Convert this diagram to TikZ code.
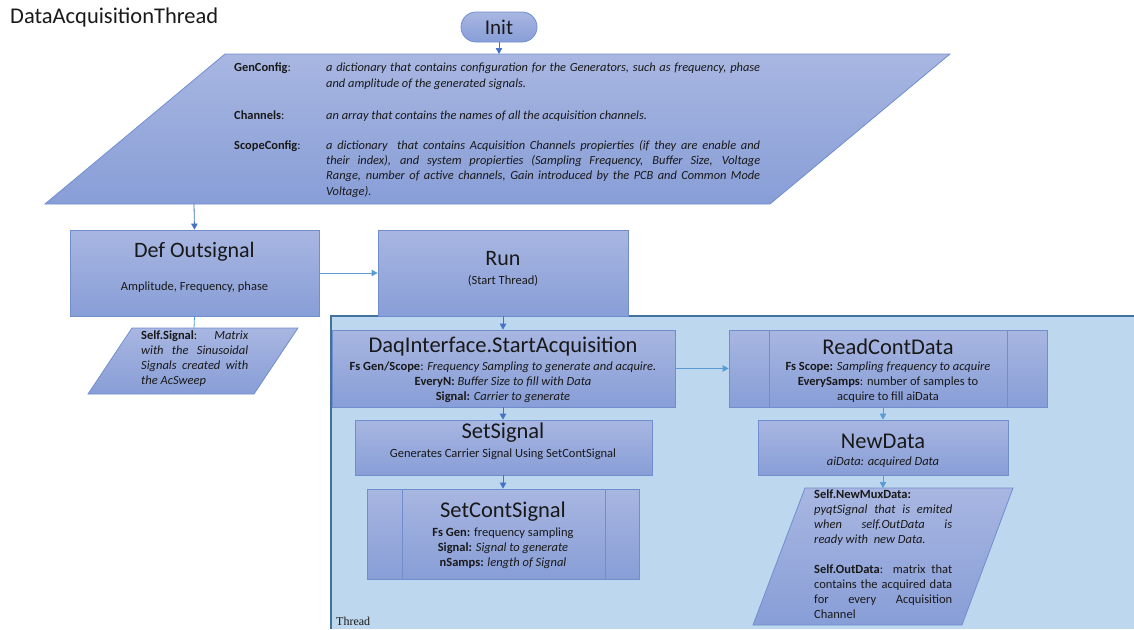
\documentclass[tikz,border=0pt]{standalone}
\usepackage{fontspec}
\setmainfont{Carlito}
\newfontfamily\threadfont{Liberation Serif}
\usetikzlibrary{arrows.meta}

\definecolor{boxtop}{RGB}{168,182,225}
\definecolor{boxbot}{RGB}{136,158,215}
\definecolor{boxline}{RGB}{112,142,206}
\definecolor{threadfill}{RGB}{189,215,238}
\definecolor{threadline}{RGB}{65,113,156}
\definecolor{arrowdark}{RGB}{68,114,196}
\definecolor{arrowlight}{RGB}{91,155,213}
\definecolor{ink}{RGB}{25,25,25}

\begin{document}
\begin{tikzpicture}[x=1pt,y=-1pt,
  every node/.style={text=ink},
  box/.style={draw=boxline, line width=0.8pt, top color=boxtop, bottom color=boxbot, inner sep=0pt},
  databox/.style={draw=boxline, line width=0.8pt, top color=boxtop, bottom color=boxbot},
  flow/.style={draw=arrowdark, line width=0.8pt, -{Triangle[length=6pt,width=6.5pt]}},
  flowlight/.style={draw=arrowlight, line width=0.8pt, -{Triangle[length=6pt,width=6.5pt]}},
  plain/.style={draw=arrowlight, line width=0.8pt},
  bigtitle/.style={font=\fontsize{22.5}{26}\selectfont, inner sep=0pt},
  body/.style={font=\fontsize{12.5}{15}\selectfont, inner sep=0pt, align=center},
  para/.style={font=\fontsize{12.5}{15}\selectfont, inner sep=0pt, anchor=north west, align=justify}
]
\useasboundingbox (0,0) rectangle (1134,629);

% thread container
\fill[threadfill] (331,316) rectangle (1134,629);
\draw[threadline, line width=1.2pt] (331,629) -- (331,316) -- (1134,316);
\node[anchor=south west, inner sep=0pt, font=\threadfont\fontsize{12}{14}\selectfont] (threadlbl) at (336,626) {Thread};

% heading
\node[anchor=west, inner sep=0pt, font=\fontsize{22.5}{26}\selectfont] (heading) at (10,18) {DataAcquisitionThread};

% start terminal
\node[box, rounded corners=15pt, minimum width=76pt, minimum height=30pt,
      font=\fontsize{21}{24}\selectfont] (init) at (499,27) {Init};

% configuration input
\coordinate (cfgtop) at (499,54);
\coordinate (cfgbot) at (194,204);
\path[databox] (225,54) -- (950,54) -- (770,204) -- (45,204) -- cycle;
\node[anchor=north west, inner sep=0pt, font=\fontsize{12.4}{15.3}\selectfont] (cfgtext) at (234,61) {%
  \begin{tabular}{@{}p{92pt}@{}p{434pt}@{}}
  \textbf{GenConfig}: & \itshape a dictionary that contains configuration for the Generators, such as frequency, phase\linebreak and amplitude of the generated signals.\\[16.5pt]
  \textbf{Channels}: & \itshape an array that contains the names of all the acquisition channels.\\[15pt]
  \textbf{ScopeConfig}: & \itshape a dictionary\ \ that contains Acquisition Channels propierties (if they are enable and\linebreak their index), and system propierties (Sampling Frequency, Buffer Size, Voltage\linebreak Range, number of active channels, Gain introduced by the PCB and Common Mode\linebreak Voltage).
  \end{tabular}};

% signal definition
\node[box, minimum width=249pt, minimum height=86pt] (defsig) at (194.5,273) {};
\node[bigtitle, font=\fontsize{22}{26}\selectfont] (deftitle) at (194.5,252) {Def Outsignal};
\node[body] (defsub) at (194.5,287) {Amplitude, Frequency, phase};

\coordinate (sigtop) at (194,328);
\path[databox] (132,328) -- (298,328) -- (254,394) -- (88,394) -- cycle;
\node[para, text width=107pt] (sigtext) at (141,331) {%
  \textbf{Self.Signal}: \textit{Matrix\linebreak with the Sinusoidal\linebreak Signals created with\linebreak the AcSweep}};

% run
\node[box, minimum width=250pt, minimum height=86pt] (run) at (503,273) {};
\node[bigtitle, font=\fontsize{22}{26}\selectfont] (runtitle) at (503,259) {Run};
\node[body] (runsub) at (503,281) {(Start Thread)};

% acquisition start
\node[box, minimum width=343pt, minimum height=77pt] (daq) at (503.5,368.5) {};
\node[bigtitle] (daqtitle) at (503,347) {DaqInterface.StartAcquisition};
\node[body] (daqtext) at (503,382.5) {%
  \textbf{Fs Gen/Scope}: \textit{Frequency Sampling to generate and acquire.}\\
  \textbf{EveryN:} \textit{Buffer Size to fill with Data}\\
  \textbf{Signal:} \textit{Carrier to generate}};

% continuous read (predefined process)
\node[box, minimum width=318pt, minimum height=77pt] (read) at (888,368.5) {};
\draw[boxline, line width=0.8pt] (769,330) -- (769,407) (1007,330) -- (1007,407);
\node[bigtitle] (readtitle) at (888,347) {ReadContData};
\node[body] (readtext) at (888,382.5) {%
  \textbf{Fs Scope:} \textit{Sampling frequency to acquire}\\
  \textbf{EverySamps}: number of samples to\\
  acquire to fill aiData};

% new data
\node[box, minimum width=250pt, minimum height=55pt] (newdata) at (883,447.5) {};
\node[bigtitle] (newtitle) at (883,441) {NewData};
\node[body] (newsub) at (883,462) {\textit{aiData: acquired Data}};

\coordinate (muxtop) at (883,488);
\path[databox] (805,488) -- (1013,488) -- (962,625) -- (753,625) -- cycle;
\node[para, text width=138pt] (muxtext) at (814,490) {%
  \textbf{Self.NewMuxData:}\\
  \textit{pyqtSignal that is emited\linebreak when self.OutData is\linebreak ready with\ \ new Data.}\\[15pt]
  \textbf{Self.OutData}: matrix that\linebreak contains the acquired data\linebreak for every Acquisition\linebreak Channel};

% set signal
\node[box, minimum width=297pt, minimum height=55pt] (setsig) at (503.5,447.5) {};
\node[bigtitle] (settitle) at (503,433) {SetSignal};
\node[body] (setsub) at (503,454) {Generates Carrier Signal Using SetContSignal};

% continuous set (predefined process)
\node[box, minimum width=272pt, minimum height=90pt] (setcont) at (503,534) {};
\draw[boxline, line width=0.8pt] (402,489) -- (402,579) (605,489) -- (605,579);
\node[bigtitle] (conttitle) at (503,512) {SetContSignal};
\node[body] (conttext) at (503,548) {%
  \textbf{Fs Gen:} frequency sampling\\
  \textbf{Signal:} \textit{Signal to generate}\\
  \textbf{nSamps:} \textit{length of Signal}};

% connectors
\draw[flow] (init.south) -- (cfgtop);
\draw[flow] (cfgbot) -- (defsig.north);
\draw[plain] (defsig.south) -- (sigtop);
\draw[flowlight] (defsig.east) -- (run.west);
\draw[flow] (run.south) -- (run.south |- daq.north);
\draw[flowlight] (daq.east) -- (daq.east -| read.west);
\draw[flow] (run.south |- daq.south) -- (run.south |- setsig.north);
\draw[flow] (run.south |- setsig.south) -- (run.south |- setcont.north);
\draw[flowlight] (newdata.north |- read.south) -- (newdata.north);
\draw[flowlight] (newdata.south) -- (muxtop);
\end{tikzpicture}
\end{document}
